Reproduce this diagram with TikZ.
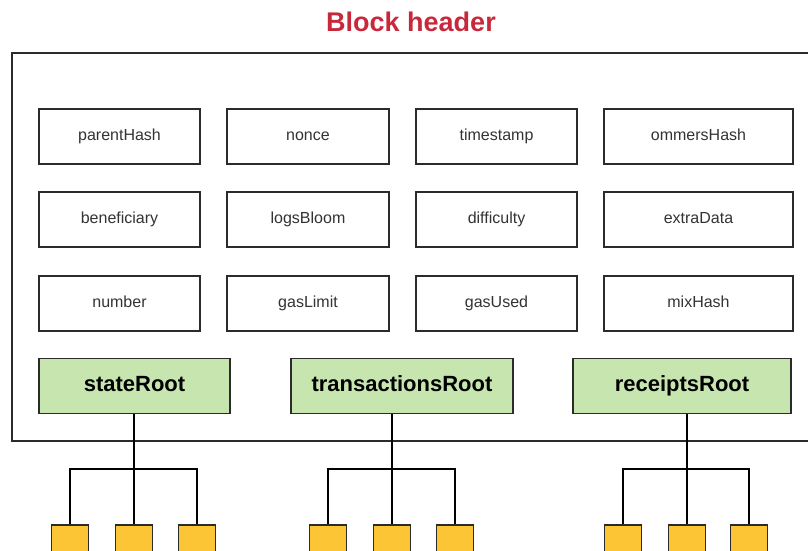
\documentclass[tikz,border=0pt]{standalone}
\usepackage{fontspec}
\setmainfont{Liberation Sans}
\definecolor{titlered}{HTML}{C8283C}
\definecolor{rootgreen}{HTML}{C7E6AF}
\definecolor{leafyellow}{HTML}{FBC536}
\definecolor{edgegray}{HTML}{2B2B2B}
\definecolor{txtgray}{HTML}{333333}
\begin{document}
\begin{tikzpicture}[x=1pt,y=-1pt,
  field/.style={draw=edgegray, line width=1.8pt, fill=white, minimum height=55pt, inner sep=0pt,
    text height=12pt, text depth=4pt,
    text=txtgray, font=\fontsize{16}{18}\selectfont},
  rootbox/.style={draw=edgegray, line width=1.8pt, fill=rootgreen, minimum height=55pt, inner sep=0pt,
    text height=16pt, text depth=5pt,
    text=black, font=\fontsize{22}{26}\selectfont\bfseries},
  leaf/.style={draw=edgegray, line width=1.5pt, fill=leafyellow, minimum width=37pt, minimum height=36pt, inner sep=0pt},
  conn/.style={draw=black, line width=1.8pt},
  stem/.style={draw=black, line width=2.4pt}
]
\useasboundingbox (0,0) rectangle (808,551);
\node[text=titlered, font=\fontsize{27}{30}\selectfont\bfseries] (title) at (411,22) {Block header};
\draw[draw=edgegray, line width=2pt] (12,53) -- (830,53) -- (830,441) -- (12,441) -- cycle;
% row 1
\node[field, minimum width=161pt] (f11) at (119.5,136.5) {parentHash};
\node[field, minimum width=162pt] (f12) at (308,136.5) {nonce};
\node[field, minimum width=161pt] (f13) at (496.5,136.5) {timestamp};
\node[field, minimum width=189pt] (f14) at (698.5,136.5) {ommersHash};
% row 2
\node[field, minimum width=161pt] (f21) at (119.5,219.5) {beneficiary};
\node[field, minimum width=162pt] (f22) at (308,219.5) {logsBloom};
\node[field, minimum width=161pt] (f23) at (496.5,219.5) {difficulty};
\node[field, minimum width=189pt] (f24) at (698.5,219.5) {extraData};
% row 3
\node[field, minimum width=161pt] (f31) at (119.5,303.5) {number};
\node[field, minimum width=162pt] (f32) at (308,303.5) {gasLimit};
\node[field, minimum width=161pt] (f33) at (496.5,303.5) {gasUsed};
\node[field, minimum width=189pt] (f34) at (698.5,303.5) {mixHash};
% roots
\node[rootbox, minimum width=191pt] (sr) at (134.5,386) {stateRoot};
\node[rootbox, minimum width=222pt] (tr) at (402,386) {transactionsRoot};
\node[rootbox, minimum width=218pt] (rr) at (682,386) {receiptsRoot};
% leaves
\node[leaf] (s1) at (70,543) {};
\node[leaf] (s2) at (134,543) {};
\node[leaf] (s3) at (197,543) {};
\node[leaf] (t1) at (328,543) {};
\node[leaf] (t2) at (392,543) {};
\node[leaf] (t3) at (455,543) {};
\node[leaf] (r1) at (623,543) {};
\node[leaf] (r2) at (687,543) {};
\node[leaf] (r3) at (749,543) {};
% branch points
\coordinate (sb) at (134,469);
\coordinate (tb) at (392,469);
\coordinate (rb) at (687,469);
% connectors
\draw[stem] (sr.south -| sb) -- (sb);
\draw[stem] (tr.south -| tb) -- (tb);
\draw[stem] (rr.south -| rb) -- (rb);
\draw[conn] (s1.north) -- (s1.north |- sb) -- (s3.north |- sb) -- (s3.north);
\draw[conn] (sb) -- (s2.north);
\draw[conn] (t1.north) -- (t1.north |- tb) -- (t3.north |- tb) -- (t3.north);
\draw[conn] (tb) -- (t2.north);
\draw[conn] (r1.north) -- (r1.north |- rb) -- (r3.north |- rb) -- (r3.north);
\draw[conn] (rb) -- (r2.north);
\end{tikzpicture}
\end{document}
